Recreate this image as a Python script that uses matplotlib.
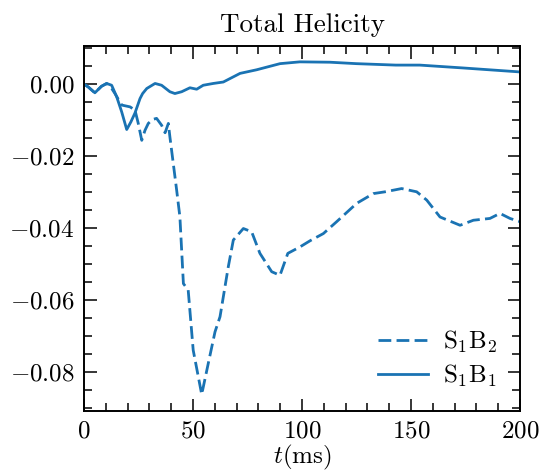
"""Total helicity vs time for the S1B1 and S1B2 runs."""
import matplotlib
matplotlib.use("Agg")
import matplotlib.pyplot as plt
from matplotlib.ticker import MultipleLocator

plt.rcParams.update({
    "font.family": "serif",
    "font.serif": ["cmr10"],
    "mathtext.fontset": "cm",
    "axes.formatter.use_mathtext": True,
    "font.size": 18,
})

COLOR = "#1a73b3"

# S1B1 (solid)
t_b1 = [0, 2, 5, 8, 10.4, 12.7, 15, 17.3, 19.6, 21.5, 23.4, 25.7, 26.9, 28.8,
        32.6, 35.6, 39.4, 41.7, 44.8, 48.6, 51.7, 54.7, 59.3, 63.9, 71.6,
        79.2, 89.9, 99, 112.8, 125, 143, 154, 174, 200]
h_b1 = [0.0, -0.0008, -0.0024, -0.0006, 0.0002, -0.0003, -0.0035, -0.0077,
        -0.0126, -0.0105, -0.008, -0.004, -0.0026, -0.0012, 0.0002, -0.0003,
        -0.0021, -0.0026, -0.0021, -0.001, -0.0014, -0.0003, 0.0002, 0.0006,
        0.003, 0.004, 0.0057, 0.0062, 0.0061, 0.0057, 0.0053, 0.0053, 0.0045,
        0.0034]

# S1B2 (dashed)
t_b2 = [0, 2, 5, 8, 10.4, 12.7, 14.2, 17.3, 21.1, 23.4, 24.9, 26.5, 28, 29.5,
        31.5, 33.3, 35.6, 37.2, 38.7, 39.4, 42.5, 44, 45.6, 47.8, 50.1, 54,
        57, 60.1, 62.4, 66.2, 68.5, 73.1, 76.9, 80.7, 86.1, 89.9, 93.5, 99.1,
        103.7, 109.8, 115.9, 125.1, 132.7, 138.1, 145.7, 152.6, 157.2, 163.3,
        172.5, 178.6, 186.2, 190.8, 195.4, 200]
h_b2 = [0.0, -0.0008, -0.0024, -0.0006, 0.0002, -0.0012, -0.0026, -0.0058,
        -0.0063, -0.0072, -0.0109, -0.0156, -0.0128, -0.0109, -0.0098, -0.0095,
        -0.0114, -0.0135, -0.0109, -0.0146, -0.0294, -0.0369, -0.0554, -0.0572,
        -0.0739, -0.0862, -0.0776, -0.0688, -0.0646, -0.0507, -0.0433, -0.0401,
        -0.041, -0.047, -0.0521, -0.0531, -0.047, -0.0452, -0.0435, -0.0415,
        -0.0382, -0.0331, -0.0304, -0.0299, -0.029, -0.0299, -0.0322, -0.0369,
        -0.0392, -0.0378, -0.0373, -0.0359, -0.0373, -0.0382]

fig = plt.figure(figsize=(5.39, 4.72), dpi=100)
ax = fig.add_axes([0.1558, 0.1292, 0.809, 0.7733])

ax.plot(t_b2, h_b2, color=COLOR, lw=2.0, ls=(0, (4.6, 1.9)), label=r"S$_1$B$_2$")
ax.plot(t_b1, h_b1, color=COLOR, lw=2.0, label=r"S$_1$B$_1$")

ax.set_xlim(0, 200)
ax.set_ylim(-0.0908, 0.0106)
ax.xaxis.set_major_locator(MultipleLocator(50))
ax.xaxis.set_minor_locator(MultipleLocator(10))
ax.yaxis.set_major_locator(MultipleLocator(0.02))
ax.yaxis.set_minor_locator(MultipleLocator(0.005))
ax.tick_params(which="both", direction="in", top=True, right=True, width=1.1)
ax.tick_params(which="major", length=9, labelsize=18, pad=7)
ax.tick_params(which="minor", length=5.5)
for s in ax.spines.values():
    s.set_linewidth(1.4)
ax.yaxis.set_major_formatter(plt.FuncFormatter(
    lambda v, _: ("$-$" if v < -1e-9 else "") + f"{abs(v):.2f}"))

ax.set_xlabel(r"$t$(ms)", fontsize=18, labelpad=0)
ax.set_title("Total Helicity", fontsize=19.5, pad=10)
ax.legend(loc="lower right", frameon=False, fontsize=18, handlelength=2.0,
          handletextpad=0.6, borderaxespad=0.5, labelspacing=0.3)

fig.savefig("out.png", dpi=100)
